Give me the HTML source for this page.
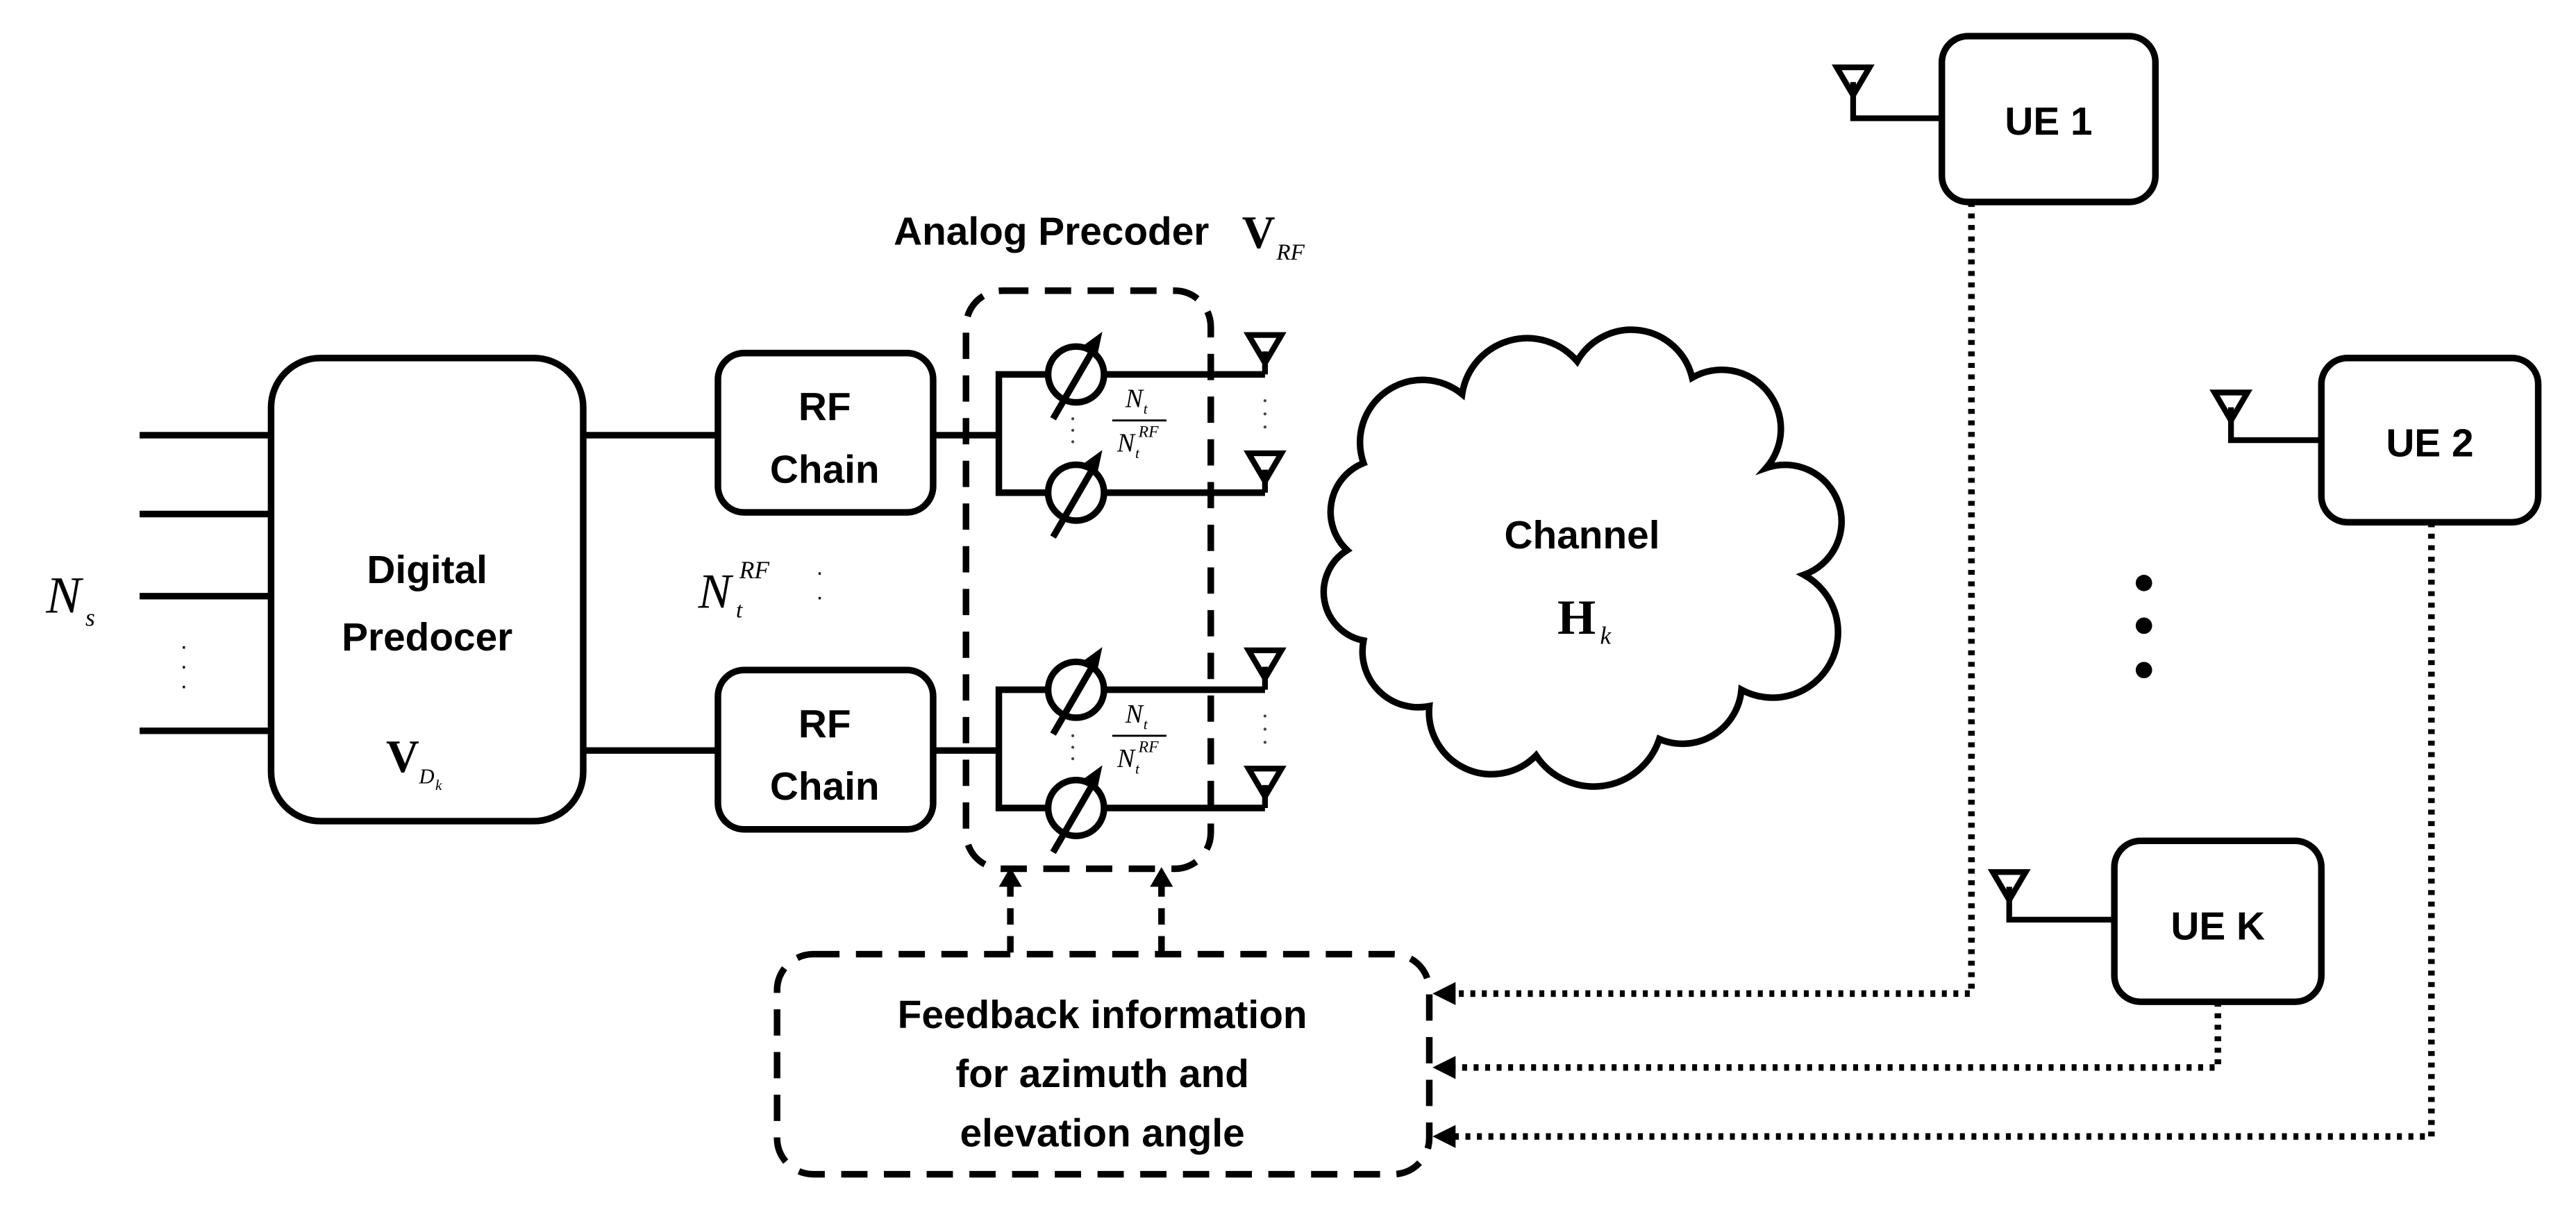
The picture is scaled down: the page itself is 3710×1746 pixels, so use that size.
<!DOCTYPE html>
<html><head><meta charset="utf-8"><style>
html,body{margin:0;padding:0;background:#fff;}
svg{display:block;}
.t{font-family:"Liberation Sans","NanumGothic",sans-serif;font-weight:bold;fill:#000;}
.m{font-family:"Liberation Serif",serif;fill:#000;}
</style></head><body>
<svg width="3710" height="1746" viewBox="0 0 1568 738" preserveAspectRatio="none" xmlns="http://www.w3.org/2000/svg">
<g fill="none" stroke="#000" stroke-width="4">
<line x1="85" y1="265" x2="165" y2="265"/>
<line x1="85" y1="313" x2="165" y2="313"/>
<line x1="85" y1="363" x2="165" y2="363"/>
<line x1="85" y1="445" x2="165" y2="445"/>
<rect x="165" y="218" width="190" height="282" rx="30"/>
<line x1="355" y1="265" x2="437" y2="265"/>
<line x1="355" y1="457" x2="437" y2="457"/>
<rect x="437" y="215" width="131" height="97" rx="16"/>
<rect x="437" y="408" width="131" height="97" rx="16"/>
<line x1="568" y1="265" x2="608" y2="265"/>
<polyline points="638,228 608,228 608,300 638,300"/>
<line x1="673" y1="228" x2="770" y2="228"/>
<line x1="673" y1="300" x2="770" y2="300"/>
<circle cx="655" cy="228" r="17"/>
<circle cx="655" cy="300" r="17"/>
<line x1="641" y1="255" x2="666" y2="212"/>
<line x1="641" y1="327" x2="666" y2="284"/>
<line x1="568" y1="457" x2="608" y2="457"/>
<polyline points="638,420 608,420 608,492 638,492"/>
<line x1="673" y1="420" x2="770" y2="420"/>
<line x1="673" y1="492" x2="770" y2="492"/>
<circle cx="655" cy="420" r="17"/>
<circle cx="655" cy="492" r="17"/>
<line x1="641" y1="447" x2="666" y2="404"/>
<line x1="641" y1="519" x2="666" y2="476"/>
<g stroke-width="3.5">
<line x1="770" y1="228" x2="770" y2="214"/><polygon points="760,204 780,204 770,221"/>
<line x1="770" y1="300" x2="770" y2="286"/><polygon points="760,276 780,276 770,293"/>
<line x1="770" y1="420" x2="770" y2="406"/><polygon points="760,396 780,396 770,413"/>
<line x1="770" y1="492" x2="770" y2="478"/><polygon points="760,468 780,468 770,485"/>
</g>
<rect x="588" y="177" width="149" height="352" rx="22" stroke-dasharray="16,10"/>
<rect x="473" y="581" width="397" height="134" rx="22" stroke-dasharray="16,10"/>
<line x1="615" y1="580" x2="615" y2="538" stroke-dasharray="10,7"/>
<line x1="707" y1="580" x2="707" y2="538" stroke-dasharray="10,7"/>
<path d="M 820 335 A 32 32 0 0 1 830 282 A 38 38 0 0 1 890 240 A 40 40 0 0 1 960 220 A 38 38 0 0 1 1030 230 A 36 36 0 0 1 1075 285 A 34 34 0 0 1 1098 350 A 38 38 0 0 1 1060 420 A 36 36 0 0 1 1010 450 A 42 42 0 0 1 935 460 A 38 38 0 0 1 870 430 A 34 34 0 0 1 830 390 A 30 30 0 0 1 820 335 Z"/>
<rect x="1182" y="22" width="130" height="101" rx="16"/>
<rect x="1413" y="218" width="132" height="100" rx="16"/>
<rect x="1287" y="512" width="126" height="98" rx="16"/>
<g stroke-width="3.5">
<polyline points="1182,72 1128,72 1128,50"/><polygon points="1118,41 1138,41 1128,58"/>
<polyline points="1413,268 1358,268 1358,248"/><polygon points="1348,239 1368,239 1358,256"/>
<polyline points="1287,560 1223,560 1223,540"/><polygon points="1213,531 1233,531 1223,548"/>
</g>
<g stroke-dasharray="3,4" stroke-width="4">
<polyline points="1200,123 1200,605 885,605"/>
<polyline points="1350,610 1350,650 885,650"/>
<polyline points="1480,318 1480,692 885,692"/>
</g>
</g>
<g fill="#000">
<polygon points="872,605 886,598 886,612"/>
<polygon points="872,650 886,643 886,657"/>
<polygon points="872,692 886,685 886,699"/>
<polygon points="615,528 608,540 622,540"/>
<polygon points="707,528 700,540 714,540"/>
<polygon points="671,202 660,210 668,216"/>
<polygon points="671,274 660,282 668,288"/>
<polygon points="671,394 660,402 668,408"/>
<polygon points="671,466 660,474 668,480"/>
<circle cx="1305" cy="355" r="5"/><circle cx="1305" cy="381" r="5"/><circle cx="1305" cy="408" r="5"/>
<g font-family="Liberation Sans" font-size="14">
<text x="110" y="395">.</text><text x="110" y="407">.</text><text x="110" y="419">.</text>
<text x="497" y="350">.</text><text x="497" y="365">.</text>
</g>
<g fill="#444"><circle cx="770" cy="244" r="0.9"/><circle cx="770" cy="252" r="0.9"/><circle cx="770" cy="260" r="0.9"/>
<circle cx="770" cy="436" r="0.9"/><circle cx="770" cy="444" r="0.9"/><circle cx="770" cy="452" r="0.9"/>
<circle cx="653" cy="255" r="0.9"/><circle cx="653" cy="262" r="0.9"/><circle cx="653" cy="269" r="0.9"/>
<circle cx="653" cy="448" r="0.9"/><circle cx="653" cy="455" r="0.9"/><circle cx="653" cy="462" r="0.9"/></g>
</g>
<g class="t" font-size="24" text-anchor="middle">
<text x="260" y="355">Digital</text>
<text x="260" y="396">Predocer</text>
<text x="502" y="256">RF</text>
<text x="502" y="294">Chain</text>
<text x="502" y="449">RF</text>
<text x="502" y="487">Chain</text>
<text x="963" y="334">Channel</text>
<text x="1247" y="82">UE 1</text>
<text x="1479" y="278">UE 2</text>
<text x="1350" y="572">UE K</text>
<text x="671" y="626">Feedback information</text>
<text x="671" y="662">for azimuth and</text>
<text x="671" y="698">elevation angle</text>
<text x="640" y="149">Analog Precoder</text>
</g>
<g class="m">
<text x="756" y="151" font-size="28" font-weight="bold">V</text><text x="777" y="158" font-size="14" font-style="italic">RF</text>
<text x="235" y="470" font-size="28" font-weight="bold">V</text><text x="255" y="477" font-size="13" font-style="italic">D</text><text x="265" y="481" font-size="9" font-style="italic">k</text>
<text x="948" y="386" font-size="30" font-weight="bold">H</text><text x="974" y="392" font-size="15" font-style="italic">k</text>
<text x="28" y="373" font-size="32" font-style="italic">N</text><text x="52" y="381" font-size="15" font-style="italic">s</text>
<text x="425" y="370" font-size="30" font-style="italic">N</text><text x="448" y="376" font-size="14" font-style="italic">t</text><text x="450" y="352" font-size="15" font-style="italic">RF</text>
<g font-style="italic" font-size="16">
<text x="685" y="248">N</text><text x="696" y="252" font-size="9">t</text>
<line x1="677" y1="256" x2="710" y2="256" stroke="#000" stroke-width="1.2"/>
<text x="680" y="275">N</text><text x="691" y="279" font-size="9">t</text><text x="693" y="266" font-size="10">RF</text>
<text x="685" y="440">N</text><text x="696" y="444" font-size="9">t</text>
<line x1="677" y1="448" x2="710" y2="448" stroke="#000" stroke-width="1.2"/>
<text x="680" y="467">N</text><text x="691" y="471" font-size="9">t</text><text x="693" y="458" font-size="10">RF</text>
</g>
</g>
</svg>
</body></html>
